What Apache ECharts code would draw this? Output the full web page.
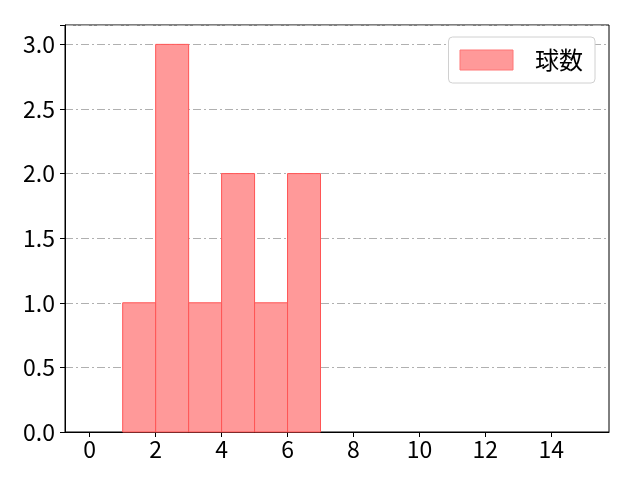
<!DOCTYPE html>
<html><head><meta charset="utf-8">
<script src="https://cdn.jsdelivr.net/npm/echarts@6/dist/echarts.min.js"></script>
<style>html,body{margin:0;padding:0;background:#fff}#c{width:640px;height:480px}</style>
</head><body><div id="c"></div>
<script>
var binStart = [1, 2, 3, 4, 5, 6];
var binEnd = [2, 3, 4, 5, 6, 7];
var counts = [1, 3, 1, 2, 1, 2];
var xTicks = [0, 2, 4, 6, 8, 10, 12, 14];
var seriesName = '球数';
var FONT = '"Noto Sans CJK JP", "DejaVu Sans", sans-serif';

var data = binStart.map(function (s, i) { return [s, binEnd[i], counts[i]]; });
var chart = echarts.init(document.getElementById('c'));
chart.setOption({
  animation: false,
  textStyle: { fontFamily: FONT },
  grid: { left: 65, right: 31, top: 25, bottom: 48, containLabel: false,
          show: true, borderColor: '#000', borderWidth: 1 },
  legend: {
    show: true, right: 45, top: 37, orient: 'vertical',
    padding: [11, 12, 11, 11],
    backgroundColor: '#fff', borderColor: '#d0d0d0', borderWidth: 1, borderRadius: 4,
    itemWidth: 53, itemHeight: 20, itemGap: 22,
    icon: 'rect',
    textStyle: { fontSize: 24, lineHeight: 24, color: '#000', fontFamily: FONT, padding: [0, 0, 0, 17] },
    data: [{ name: seriesName, itemStyle: { color: '#ff9999', borderColor: '#ff7777', borderWidth: 1 } }]
  },
  xAxis: {
    type: 'value', min: -0.75, max: 15.75, interval: 2,
    axisLine: { show: true, onZero: false, lineStyle: { color: '#000', width: 1 } },
    axisTick: { show: true, length: 5, lineStyle: { color: '#000' }, customValues: xTicks },
    axisLabel: { fontSize: 23, color: '#000', margin: 6, customValues: xTicks, fontFamily: FONT },
    splitLine: { show: false }
  },
  yAxis: {
    type: 'value', min: 0, max: 3.15, interval: 0.5,
    axisLine: { show: true, onZero: false, lineStyle: { color: '#000', width: 1 } },
    axisTick: { show: true, length: 5, lineStyle: { color: '#000' } },
    axisLabel: { fontSize: 23, color: '#000', margin: 10, fontFamily: FONT,
      formatter: function (v) { return v > 3.01 ? '' : v.toFixed(1); } },
    splitLine: { show: true, lineStyle: { color: '#b0b0b0', width: 1, type: [8, 3, 2, 3] } }
  },
  series: [{
    name: seriesName,
    type: 'custom',
    data: data,
    encode: { x: [0, 1], y: 2 },
    renderItem: function (params, api) {
      var p0 = api.coord([api.value(0), api.value(2)]);
      var p1 = api.coord([api.value(1), 0]);
      return {
        type: 'rect',
        shape: { x: p0[0], y: p0[1], width: p1[0] - p0[0], height: p1[1] - p0[1] },
        style: { fill: '#ff9999', stroke: '#ff5555', lineWidth: 1 }
      };
    },
    itemStyle: { color: '#ff9999' }
  }]
});
</script></body></html>
